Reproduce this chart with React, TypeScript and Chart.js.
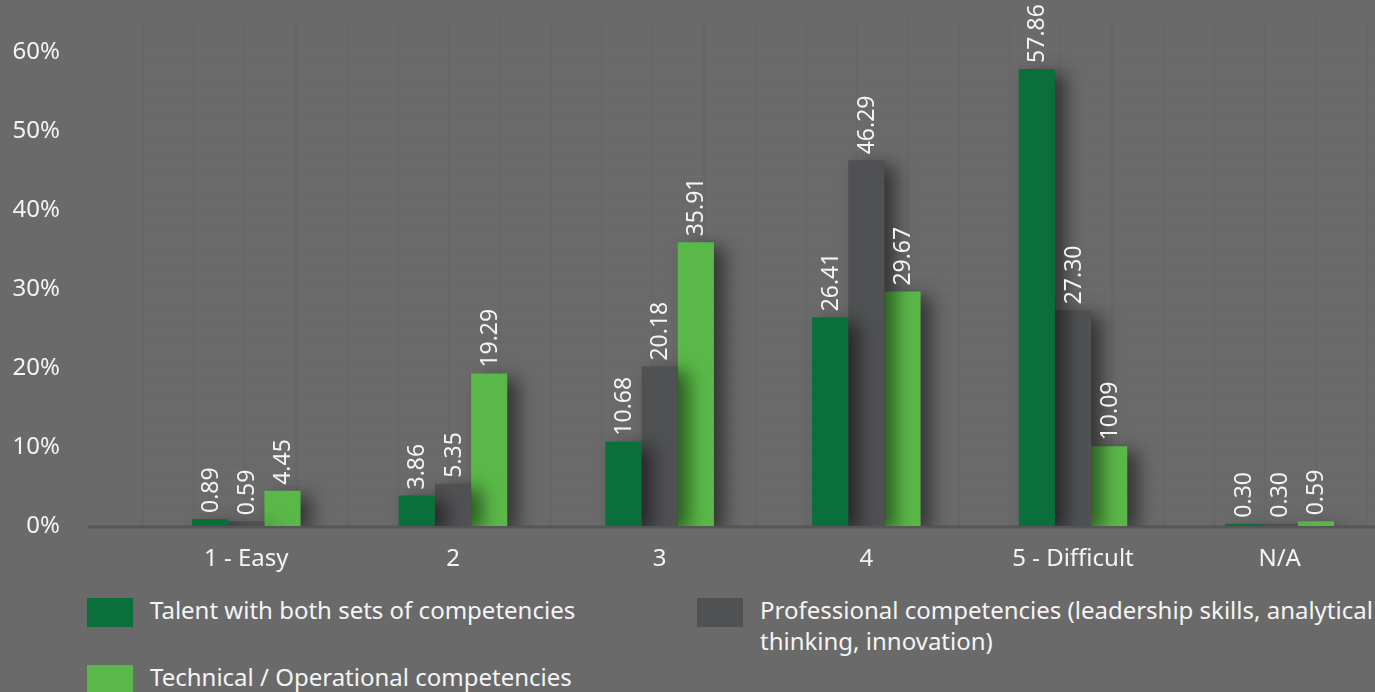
import React, { useEffect, useRef } from "react";
import { Chart, registerables } from "chart.js";

Chart.register(...registerables);

const categories = ["1 - Easy", "2", "3", "4", "5 - Difficult", "N/A"];
const bothSets = [0.89, 3.86, 10.68, 26.41, 57.86, 0.3];
const professional = [0.59, 5.35, 20.18, 46.29, 27.3, 0.3];
const technical = [4.45, 19.29, 35.91, 29.67, 10.09, 0.59];
const seriesNames = [
  "Talent with both sets of competencies",
  "Professional competencies (leadership skills, analytical thinking, innovation)",
  "Technical / Operational competencies",
];
const seriesColors = ["#0b6f3c", "#505153", "#5ab848"];
const yMax = 60;
const yStep = 10;

const FONT = "'Noto Sans', sans-serif";
const BG = "#6a6a6a";
const TEXT = "#f4f4f4";

const backgroundPlugin = {
  id: "bgTexture",
  beforeDraw(chart: any) {
    const { ctx, width, chartArea } = chart;
    ctx.save();
    ctx.fillStyle = BG;
    ctx.fillRect(0, 0, width, chart.height);
    ctx.strokeStyle = "rgba(92,98,98,0.3)";
    ctx.lineWidth = 3;
    for (let x = chartArea.left; x < width; x += 51) {
      ctx.beginPath();
      ctx.moveTo(x, 20);
      ctx.lineTo(x, chartArea.bottom);
      ctx.stroke();
    }
    ctx.strokeStyle = "rgba(255,255,255,0.025)";
    ctx.lineWidth = 1;
    for (let y = chartArea.bottom - 14; y > 40; y -= 14) {
      ctx.beginPath();
      ctx.moveTo(chartArea.left, y + 0.5);
      ctx.lineTo(width, y + 0.5);
      ctx.stroke();
    }
    ctx.restore();
  },
  beforeDatasetsDraw(chart: any) {
    const { ctx, chartArea, scales } = chart;
    const y0 = scales.y.getPixelForValue(0);
    ctx.save();
    ctx.strokeStyle = "#555657";
    ctx.lineWidth = 3;
    ctx.beginPath();
    ctx.moveTo(chartArea.left - 55, y0 + 1);
    ctx.lineTo(chart.width, y0 + 1);
    ctx.stroke();
    ctx.restore();
  },
  beforeDatasetDraw(chart: any) {
    const ctx = chart.ctx;
    ctx.save();
    ctx.shadowColor = "rgba(0,0,0,0.5)";
    ctx.shadowBlur = 18;
    ctx.shadowOffsetX = 11;
    ctx.shadowOffsetY = 5;
  },
  afterDatasetDraw(chart: any) {
    chart.ctx.restore();
  },
  afterDatasetsDraw(chart: any) {
    const ctx = chart.ctx;
    ctx.save();
    ctx.fillStyle = TEXT;
    ctx.font = `23px ${FONT}`;
    ctx.textAlign = "left";
    ctx.textBaseline = "middle";
    chart.data.datasets.forEach((ds: any, di: number) => {
      const meta = chart.getDatasetMeta(di);
      meta.data.forEach((bar: any, i: number) => {
        const v = ds.data[i];
        ctx.save();
        ctx.translate(bar.x, bar.y - 6);
        ctx.rotate(-Math.PI / 2);
        ctx.fillText(v.toFixed(2), 0, 1);
        ctx.restore();
      });
    });
    ctx.restore();
  },
};

export default function App() {
  const canvasRef = useRef<HTMLCanvasElement | null>(null);

  useEffect(() => {
    document.body.style.margin = "0";
    document.body.style.background = BG;
    const canvas = canvasRef.current;
    if (!canvas) return;
    const chart = new Chart(canvas, {
      type: "bar",
      data: {
        labels: categories,
        datasets: [bothSets, professional, technical].map((d, i) => ({
          label: seriesNames[i],
          data: d,
          backgroundColor: seriesColors[i],
          borderWidth: 0,
          categoryPercentage: 0.525,
          barPercentage: 1,
        })),
      },
      options: {
        responsive: false,
        animation: false,
        devicePixelRatio: 1,
        layout: { padding: { top: 52, right: 12, left: 0, bottom: 0 } },
        plugins: {
          legend: { display: false },
          tooltip: { enabled: false },
        },
        scales: {
          x: {
            grid: { display: false, drawTicks: false },
            border: { display: false },
            ticks: {
              color: TEXT,
              font: { family: FONT, size: 24 },
              padding: 19,
              maxRotation: 0,
              autoSkip: false,
            },
            afterFit(scale: any) {
              scale.height = 64;
            },
          },
          y: {
            min: 0,
            max: yMax,
            grid: { display: false, drawTicks: false },
            border: { display: false },
            ticks: {
              stepSize: yStep,
              color: TEXT,
              font: { family: FONT, size: 24 },
              padding: 83,
              callback: (v: any) => `${v}%`,
            },
            afterFit(scale: any) {
              scale.width = 143;
              scale.paddingTop = 0;
              scale.paddingBottom = 0;
            },
          },
        },
      },
      plugins: [backgroundPlugin],
    });
    return () => chart.destroy();
  }, []);

  const legendItems = [
    { i: 0, left: 87, top: 598 },
    { i: 1, left: 697, top: 598 },
    { i: 2, left: 87, top: 665 },
  ];

  return (
    <div
      style={{
        position: "relative",
        width: 1375,
        height: 692,
        overflow: "hidden",
        background: BG,
        fontFamily: FONT,
      }}
    >
      <canvas
        ref={canvasRef}
        width={1395}
        height={590}
        style={{ position: "absolute", left: 0, top: 0, width: 1395, height: 590 }}
      />
      {legendItems.map(({ i, left, top }) => (
        <div key={i} style={{ position: "absolute", left, top, display: "flex" }}>
          <div
            style={{
              width: 46,
              height: 29,
              background: seriesColors[i],
              flex: "0 0 auto",
            }}
          />
          <div
            style={{
              marginLeft: 17,
              marginTop: -4,
              color: TEXT,
              fontSize: 24,
              lineHeight: "31px",
              width: 640,
            }}
          >
            {seriesNames[i]}
          </div>
        </div>
      ))}
    </div>
  );
}
